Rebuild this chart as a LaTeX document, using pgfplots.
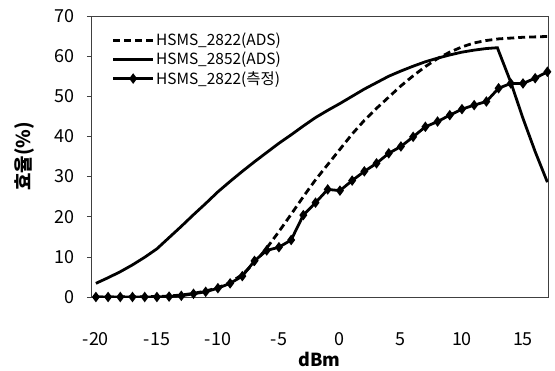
\documentclass[border=0pt]{standalone}
\usepackage{fontspec}
\setmainfont{Noto Sans CJK KR}
\usepackage{pgfplots}
\pgfplotsset{compat=1.18}
\begin{document}
\begin{tikzpicture}
\begin{axis}[
  at={(0,0)}, anchor=south west,
  scale only axis, width=457bp, height=281bp,
  xmin=-20.4, xmax=17.05, ymin=0, ymax=70,
  xtick={-20,-15,...,15}, ytick={0,10,...,70},
  /pgf/number format/assume math mode=true,
  axis line style={line width=0.6bp, black!75},
  tick pos=left,
  xtick style={draw=none},
  ytick style={line width=0.6bp, black!75},
  tick align=outside, major tick length=4bp,
  xticklabel style={font=\fontsize{18}{18}\selectfont, yshift=-28bp},
  yticklabel style={font=\fontsize{18}{18}\selectfont, xshift=-9bp},
  xlabel={\textbf{dBm}},
  xlabel style={font=\fontsize{18}{18}\selectfont, at={(0.5,-0.2206)}, anchor=center},
  ylabel={\textbf{효율(\%)}},
  ylabel style={font=\fontsize{19}{19}\selectfont, at={(-0.1466,0.5)}, anchor=center},
  legend style={draw=none, fill=none, at={(0.045,0.945)}, anchor=north west,
    font=\fontsize{15.5}{15.5}\selectfont, row sep=2bp, inner sep=0pt,
    nodes={inner sep=1.5bp}},
  legend cell align=left,
  legend image code/.code={\draw[mark repeat=2,mark phase=2,#1] plot coordinates {(0bp,0bp) (20bp,0bp) (40bp,0bp)};},
]
\addplot[black, line width=2.8bp, dash pattern=on 7bp off 4bp] coordinates {
(-20,0) (-17,0.05) (-15,0.1) (-14,0.25) (-13,0.5) (-12,0.9) (-11,1.5) (-10,2.3) (-9,3.6) (-8,5.6) (-7,8.5) (-6,12.2) (-5,16.3) (-4,20.6) (-3,25) (-2,29.2) (-1,33) (0,36.8) (1,40.6) (2,44) (3,47) (4,49.8) (5,52.6) (6,55.1) (7,57.4) (8,59.4) (9,61) (10,62.3) (11,63.3) (12,63.9) (13,64.3) (14,64.5) (15,64.7) (16,64.8) (17,64.9)
};
\addlegendentry{HSMS\_2822(ADS)}
\addplot[black, line width=2.8bp] coordinates {
(-20,3.4) (-19,4.8) (-18,6.3) (-17,8.0) (-16,9.9) (-15,12.0) (-14,14.8) (-13,17.6) (-12,20.5) (-11,23.3) (-10,26.2) (-9,28.8) (-8,31.3) (-7,33.7) (-6,36.0) (-5,38.3) (-4,40.4) (-3,42.6) (-2,44.7) (-1,46.5) (0,48.2) (1,50.0) (2,51.8) (3,53.4) (4,55.0) (5,56.3) (6,57.5) (7,58.6) (8,59.5) (9,60.3) (10,61.0) (11,61.5) (12,61.9) (12.9,62.1) (14,53.5) (15,44.5) (16,36.2) (17,28.6)
};
\addlegendentry{HSMS\_2852(ADS)}
\addplot[black, line width=2.8bp, mark=diamond*, mark size=3bp, mark options={solid}] coordinates {
(-20,0) (-19,0) (-18,0) (-17,0) (-16,0) (-15,0) (-14,0.1) (-13,0.3) (-12,0.8) (-11,1.3) (-10,2.2) (-9,3.4) (-8,5.2) (-7,9.0) (-6,11.6) (-5,12.4) (-4,14.2) (-3,20.4) (-2,23.5) (-1,26.8) (0,26.5) (1,29) (2,31.3) (3,33.3) (4,35.8) (5,37.5) (6,39.9) (7,42.4) (8,43.7) (9,45.3) (10,46.8) (11,47.8) (12,48.7) (13,52) (14,53.2) (15,53.2) (16,54.5) (17,56.1)
};
\addlegendentry{HSMS\_2822(측정)}
\end{axis}
\pgfresetboundingbox
\path[use as bounding box] (-91bp,-74bp) rectangle (464bp,297bp);
\end{tikzpicture}
\end{document}
